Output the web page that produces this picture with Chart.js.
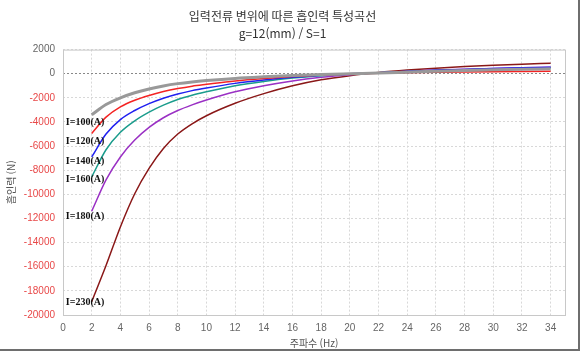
<!DOCTYPE html>
<html lang="ko">
<head>
<meta charset="UTF-8" />
<title>입력전류 변위에 따른 흡인력 특성곡선</title>
<script src="https://cdn.jsdelivr.net/npm/chart.js"></script>
<style>
  body { margin: 0; background: #fff; }
  .frame { width: 578px; height: 349px; border-right: 2px solid #6e6e6e; border-bottom: 2px solid #6e6e6e; }
</style>
</head>
<body>
<div class="frame"><canvas id="myChart" width="578" height="349"></canvas></div>

<script>
  // 주파수 (Hz)
  const freq = [2, 3, 4, 5, 6, 7, 8, 9, 10, 12, 14, 16, 18, 20, 22, 24, 26, 28, 30, 32, 34];

  // 흡인력 (N) - 입력전류별
  const i100 = [-3400, -2550, -2000, -1580, -1260, -1010, -820, -680, -570, -390, -260, -150, -65, 0, 60, 130, 200, 260, 320, 370, 410];
  const i120 = [-4950, -3600, -2750, -2200, -1800, -1480, -1230, -1030, -880, -600, -400, -240, -110, -20, 40, 80, 120, 150, 170, 185, 200];
  const i140 = [-6900, -5000, -3800, -3050, -2480, -2030, -1680, -1400, -1180, -800, -520, -300, -130, -10, 90, 190, 280, 360, 430, 490, 530];
  const i160 = [-8550, -6300, -4850, -3900, -3180, -2600, -2130, -1780, -1500, -1000, -640, -360, -160, -20, 80, 180, 260, 330, 390, 440, 480];
  const i180 = [-11400, -8800, -6900, -5500, -4450, -3650, -3050, -2580, -2180, -1500, -1000, -600, -300, -80, 80, 200, 300, 380, 440, 490, 540];
  const i230 = [-18900, -15900, -12700, -9950, -7850, -6200, -5000, -4150, -3480, -2450, -1650, -1000, -500, -160, 100, 300, 460, 590, 700, 790, 870];

  const seriesNames = ['I=100(A)', 'I=120(A)', 'I=140(A)', 'I=160(A)', 'I=180(A)', 'I=230(A)'];
  const seriesColors = ['#999999', '#f42424', '#2020f0', '#1a9c8c', '#9a30c4', '#8a1818'];
  const allSeries = [i100, i120, i140, i160, i180, i230];

  const toPoints = arr => arr.map((v, i) => ({ x: freq[i], y: v }));

  // 곡선 옆 라벨 (시작점 기준 세로 오프셋, px)
  const labelOffsets = [8, 8, 4, 3, 5, 1];

  const plotBox = {
    id: 'plotBox',
    beforeDatasetsDraw(chart) {
      const { ctx, chartArea: a } = chart;
      ctx.save();
      ctx.strokeStyle = '#c8c8c8';
      ctx.lineWidth = 1;
      ctx.strokeRect(a.left + 0.5, a.top + 0.5, a.right - a.left, a.bottom - a.top);
      ctx.restore();
    },
    afterDatasetsDraw(chart) {
      const { ctx } = chart;
      const xs = chart.scales.x, ys = chart.scales.y;
      ctx.save();
      ctx.font = 'bold 10px "Liberation Serif", serif';
      ctx.fillStyle = '#111';
      ctx.textBaseline = 'middle';
      allSeries.forEach((s, i) => {
        const px = xs.getPixelForValue(0.2);
        const py = ys.getPixelForValue(s[0]) + labelOffsets[i];
        ctx.fillText(seriesNames[i], px, py);
      });
      ctx.restore();
    }
  };

  const ctx = document.getElementById('myChart').getContext('2d');
  const chart = new Chart(ctx, {
    type: 'line',
    data: {
      datasets: allSeries.map((s, i) => ({
        label: seriesNames[i],
        data: toPoints(s),
        borderColor: seriesColors[i],
        backgroundColor: seriesColors[i],
        borderWidth: i === 0 ? 3 : 1.5,
        pointRadius: 0,
        cubicInterpolationMode: 'monotone',
        fill: false
      }))
    },
    options: {
      responsive: false,
      animation: false,
      layout: { padding: { left: 0, right: 13, top: 0, bottom: 0 } },
      plugins: {
        legend: { display: false },
        tooltip: { enabled: false },
        title: {
          display: true,
          text: ['입력전류 변위에 따른 흡인력 특성곡선', 'g=12(mm) / S=1'],
          color: '#333',
          font: { family: '"Noto Sans CJK KR", sans-serif', size: 12, weight: 'normal', lineHeight: 1.4 },
          padding: { top: 8, bottom: 8 }
        }
      },
      scales: {
        x: {
          type: 'linear',
          min: 0,
          max: 35,
          afterFit: s => { s.height = 34; },
          ticks: { stepSize: 2, includeBounds: false, color: '#666', padding: 7, callback: v => String(v), font: { family: '"Liberation Sans", sans-serif', size: 10 } },
          grid: { color: '#d8d8d8', drawTicks: false },
          border: { display: false, dash: [2, 2] },
          title: { display: true, text: '주파수 (Hz)', color: '#555', padding: { top: 0, bottom: 0 }, font: { family: '"Noto Sans CJK KR", sans-serif', size: 10 } }
        },
        y: {
          min: -20000,
          max: 2000,
          afterFit: s => { s.width = 63; },
          ticks: {
            stepSize: 2000,
            padding: 8,
            callback: v => String(v),
            color: c => (c.tick && c.tick.value < 0 ? '#e84848' : '#666'),
            font: { family: '"Liberation Sans", sans-serif', size: 10 }
          },
          grid: {
            color: c => (c.tick && c.tick.value === 0 ? '#888' : '#d8d8d8'),
            drawTicks: false
          },
          border: { display: false, dash: [2, 2] },
          title: { display: true, text: '흡인력 (N)', color: '#555', padding: { top: 5, bottom: 0 }, font: { family: '"Noto Sans CJK KR", sans-serif', size: 10 } }
        }
      }
    },
    plugins: [plotBox]
  });
</script>
</body>
</html>
